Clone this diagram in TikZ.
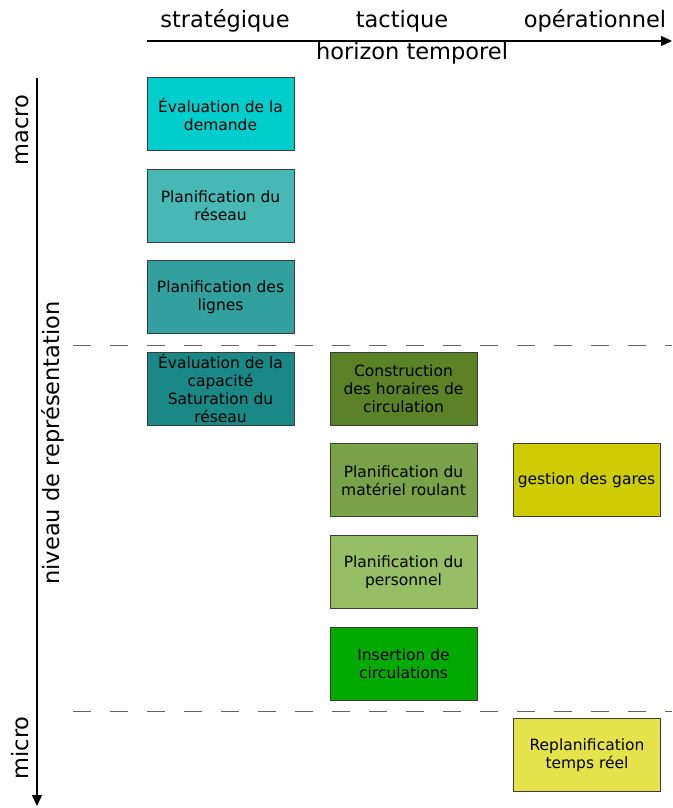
\documentclass[tikz,border=0pt]{standalone}
\usepackage{fontspec}
\setmainfont{DejaVu Sans}
\usetikzlibrary{
  positioning,
  calc,
  arrows.meta}
\definecolor{demandecolor}{RGB}{0,206,204}
\definecolor{reseaucolor}{RGB}{72,184,182}
\definecolor{lignescolor}{RGB}{50,160,158}
\definecolor{capacitecolor}{RGB}{25,136,134}
\definecolor{horairecolor}{RGB}{92,130,40}
\definecolor{materielcolor}{RGB}{122,162,72}
\definecolor{personnelcolor}{RGB}{150,190,100}
\definecolor{insertioncolor}{RGB}{0,170,0}
\definecolor{garescolor}{RGB}{206,204,0}
\definecolor{reelcolor}{RGB}{230,226,76}
\definecolor{bordercolor}{RGB}{60,60,60}
\tikzset{
  %% task : one planning task
  task/.style={
    rectangle,
    draw=bordercolor,
    line width=1pt,
    minimum width=147pt,
    minimum height=73pt,
    inner xsep=2pt,
    inner ysep=0pt,
    font=\fontsize{15.5}{18}\selectfont,
    align=center
  },
  %% axislabel : text along the two axes
  axislabel/.style={
    font=\fontsize{22.5}{26}\selectfont,
    inner sep=0pt
  },
  %% axis : the two arrows
  axis/.style={line width=1.2pt, -{Triangle[length=11pt,width=10pt]}},
  %% level : border between macro and micro
  level/.style={bordercolor!80, line width=1pt, dash pattern=on 18pt off 19pt}
}
\begin{document}
\begin{tikzpicture}
  [x=1pt,
  y=-1pt,
  node distance=17.6pt and 35pt]

  \useasboundingbox (0,0) rectangle (672,808);

  %% Axes
  \coordinate (hstart) at (147,41);
  \coordinate (hend) at (672,41);
  \coordinate (vstart) at (37,78);
  \coordinate (vend) at (37,806);
  \draw [axis] (hstart) -- (hend);
  \draw [axis] (vstart) -- (vend);

  \node (horizon) [axislabel] at (412,53) {horizon temporel};
  \node (niveau) [axislabel, rotate=90] at (53,443) {niveau de représentation};
  \node (macro) [axislabel, rotate=90] at (22,130) {macro};
  \node (micro) [axislabel, rotate=90] at (20,748) {micro};

  %% Levels
  \coordinate (lvlAleft) at (73,345);
  \coordinate (lvlAright) at (672,345);
  \coordinate (lvlBleft) at (73,711);
  \coordinate (lvlBright) at (672,711);
  \draw [level] (lvlAleft) -- (lvlAright);
  \draw [level] (lvlBleft) -- (lvlBright);

  %% Strategic column
  \node (demande) [task, fill=demandecolor] at (220.5,114) {%
    Évaluation de la\\demande};
  \node (reseau) [below=of demande, task, fill=reseaucolor] {%
    Planification du\\réseau};
  \node (lignes) [below=of reseau, task, fill=lignescolor] {%
    Planification des\\lignes};
  \node (capacite) [below=of lignes, task, fill=capacitecolor] {%
    Évaluation de la\\capacité\\Saturation du\\réseau};

  %% Tactical column
  \node (horaires) [right=of capacite, task, fill=horairecolor] {%
    Construction\\des horaires de\\circulation};
  \node (materiel) [below=of horaires, task, fill=materielcolor] {%
    Planification du\\matériel roulant};
  \node (personnel) [below=of materiel, task, fill=personnelcolor] {%
    Planification du\\personnel};
  \node (insertion) [below=of personnel, task, fill=insertioncolor] {%
    Insertion de\\circulations};

  %% Operational column
  \node (gares) [right=of materiel, task, fill=garescolor] {%
    gestion des gares};
  \node (tempsreel) [task, fill=reelcolor] at
  ($(insertion)+(183.5,91.6)$) {%
    Replanification\\temps réel};

  %% Column titles
  \node (strategique) [axislabel] at (225,21) {stratégique};
  \node (tactique) [axislabel] at (402,21) {tactique};
  \node (operationnel) [axislabel] at (595,21) {opérationnel};

\end{tikzpicture}
\end{document}
